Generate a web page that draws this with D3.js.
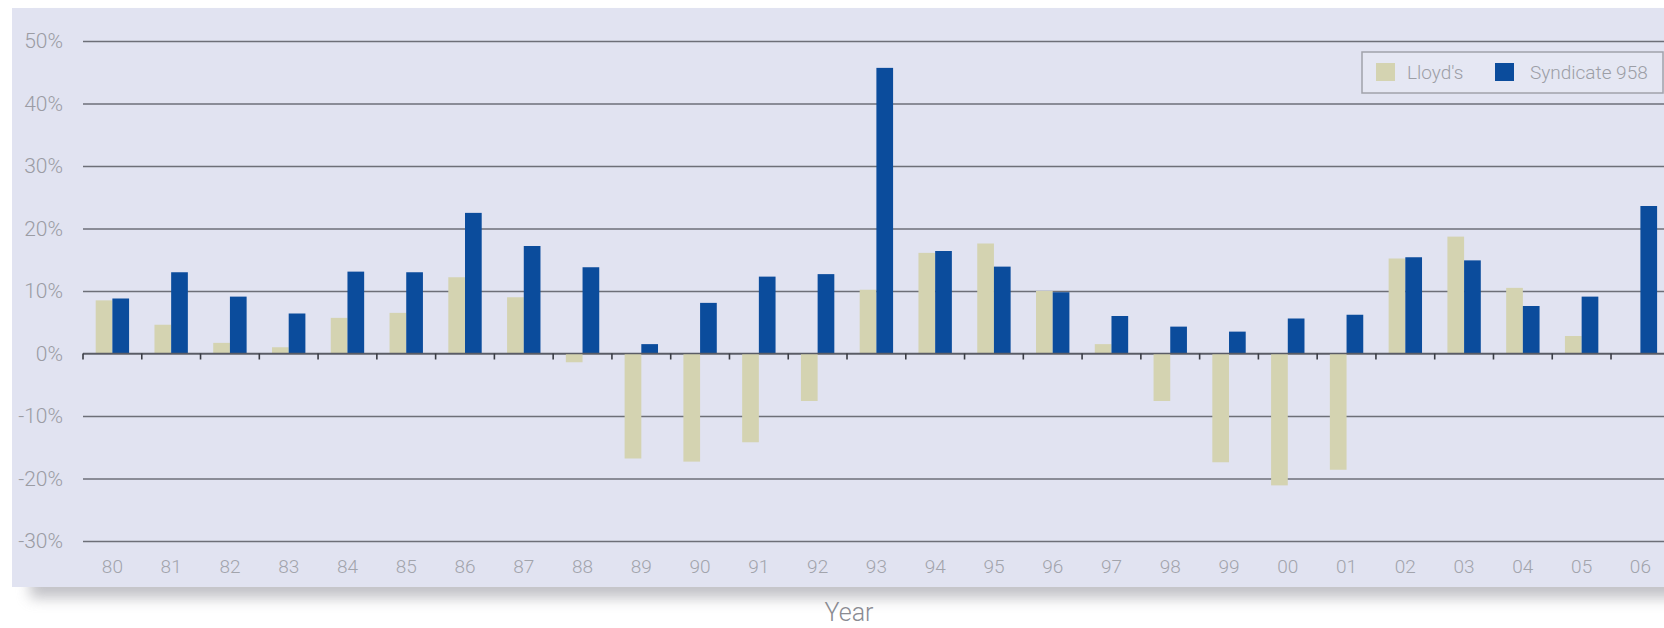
<!DOCTYPE html>
<html>
<head>
<meta charset="utf-8">
<script src="https://cdn.jsdelivr.net/npm/d3@7/dist/d3.min.js"></script>
<style>
  html, body { margin: 0; padding: 0; background: #ffffff; }
  svg { display: block; }
  text { font-family: Roboto, "Open Sans", "DejaVu Sans", sans-serif; font-weight: 300; }
</style>
</head>
<body>
<svg id="chart" width="1664" height="628"></svg>
<script>
// Year-on-year result, in percent
const years = ["80","81","82","83","84","85","86","87","88","89","90","91","92","93","94","95","96","97","98","99","00","01","02","03","04","05","06"];
const lloyds = [8.5, 4.6, 1.7, 1.0, 5.7, 6.5, 12.2, 9.0, -1.4, -16.8, -17.3, -14.2, -7.6, 10.2, 16.1, 17.6, 10.0, 1.5, -7.6, -17.4, -21.1, -18.6, 15.2, 18.7, 10.5, 2.8, null];
const syndicate = [8.8, 13.0, 9.1, 6.4, 13.1, 13.0, 22.5, 17.2, 13.8, 1.5, 8.1, 12.3, 12.7, 45.7, 16.4, 13.9, 9.8, 6.0, 4.3, 3.5, 5.6, 6.2, 15.4, 14.9, 7.6, 9.1, 23.6];
const seriesNames = ["Lloyd's", "Syndicate 958"];
const yTicks = [-30, -20, -10, 0, 10, 20, 30, 40, 50];
const xTitle = "Year";

const colors = { "Lloyd's": "#d4d3b1", "Syndicate 958": "#0b4c9c" };

const svg = d3.select("#chart");
const W = 1664, H = 628;

const plot = { left: 83, top: 41, bottom: 541, step: 58.77 };

// soft drop shadow behind the panel
const defs = svg.append("defs");
const blur = defs.append("filter").attr("id", "shadow")
  .attr("x", "-5%").attr("y", "-10%").attr("width", "110%").attr("height", "130%");
blur.append("feGaussianBlur").attr("stdDeviation", 7);

svg.append("rect")
  .attr("x", 30).attr("y", 22).attr("width", W).attr("height", 576)
  .attr("fill", "#9a9aa2").attr("opacity", 0.6)
  .attr("filter", "url(#shadow)");

svg.append("rect")
  .attr("x", 12).attr("y", 8).attr("width", W).attr("height", 579)
  .attr("fill", "#e1e3f1");

// scales
const x = d3.scaleBand()
  .domain(years)
  .range([plot.left, plot.left + plot.step * years.length])
  .padding(0);

const x1 = d3.scaleBand()
  .domain(seriesNames)
  .range([0, x.bandwidth()])
  .paddingOuter(0.76)
  .paddingInner(0);

const y = d3.scaleLinear().domain([-30, 50]).range([plot.bottom, plot.top]);

// horizontal gridlines
const yAxis = d3.axisLeft(y)
  .tickValues(yTicks)
  .tickSize(-(W - plot.left))
  .tickFormat(d => d + "%");

const gy = svg.append("g")
  .attr("transform", `translate(${plot.left},0)`)
  .call(yAxis);
gy.select(".domain").remove();
gy.selectAll(".tick line").attr("stroke", "#6d6f78").attr("stroke-width", 1.6);
gy.selectAll(".tick text")
  .attr("x", -20)
  .attr("fill", "#9b9ca4")
  .style("font-size", "21px")
  .style("font-family", "Roboto, sans-serif")
  .style("font-weight", 300);

// bars
const rows = years.map((yr, i) => ({ year: yr, values: [
  { key: "Lloyd's", value: lloyds[i] },
  { key: "Syndicate 958", value: syndicate[i] }
]}));

const groups = svg.append("g").selectAll("g")
  .data(rows)
  .join("g")
  .attr("transform", d => `translate(${x(d.year)},0)`);

groups.selectAll("rect")
  .data(d => d.values.filter(v => v.value !== null))
  .join("rect")
  .attr("x", d => x1(d.key))
  .attr("width", x1.bandwidth())
  .attr("y", d => y(Math.max(0, d.value)))
  .attr("height", d => Math.abs(y(d.value) - y(0)))
  .attr("fill", d => colors[d.key]);

// zero axis with ticks at band boundaries
const zeroY = y(0);
svg.append("line")
  .attr("x1", plot.left).attr("x2", W)
  .attr("y1", zeroY).attr("y2", zeroY)
  .attr("stroke", "#5a5c66").attr("stroke-width", 1.6);
svg.append("g").selectAll("line")
  .data(years)
  .join("line")
  .attr("x1", d => x(d)).attr("x2", d => x(d))
  .attr("y1", zeroY).attr("y2", zeroY + 6)
  .attr("stroke", "#3a3c44").attr("stroke-width", 1.6);

// year labels
const xAxis = d3.axisBottom(x).tickSize(0).tickPadding(0);
const gx = svg.append("g")
  .attr("transform", `translate(0,${plot.bottom + 18})`)
  .call(xAxis);
gx.select(".domain").remove();
gx.selectAll(".tick text")
  .attr("fill", "#a2a4ac")
  .style("font-size", "19px")
  .style("font-family", "Roboto, sans-serif")
  .style("font-weight", 300);

// axis title
svg.append("text")
  .attr("x", 849).attr("y", 621)
  .attr("text-anchor", "middle")
  .attr("fill", "#8a8b92")
  .style("font-size", "25px")
  .text(xTitle);

// legend
const legend = svg.append("g");
legend.append("rect")
  .attr("x", 1362).attr("y", 52).attr("width", 301).attr("height", 41)
  .attr("fill", "#e5e7f3").attr("stroke", "#a0a2aa").attr("stroke-width", 1.5);

const legendItems = [
  { key: "Lloyd's", sx: 1376, tx: 1407 },
  { key: "Syndicate 958", sx: 1495, tx: 1530 }
];
legendItems.forEach(it => {
  legend.append("rect")
    .attr("x", it.sx).attr("y", 63).attr("width", 19).attr("height", 18)
    .attr("fill", colors[it.key]);
  legend.append("text")
    .attr("x", it.tx).attr("y", 79)
    .attr("fill", "#9c9ea6")
    .style("font-size", "19px")
    .text(it.key);
});
</script>
</body>
</html>
